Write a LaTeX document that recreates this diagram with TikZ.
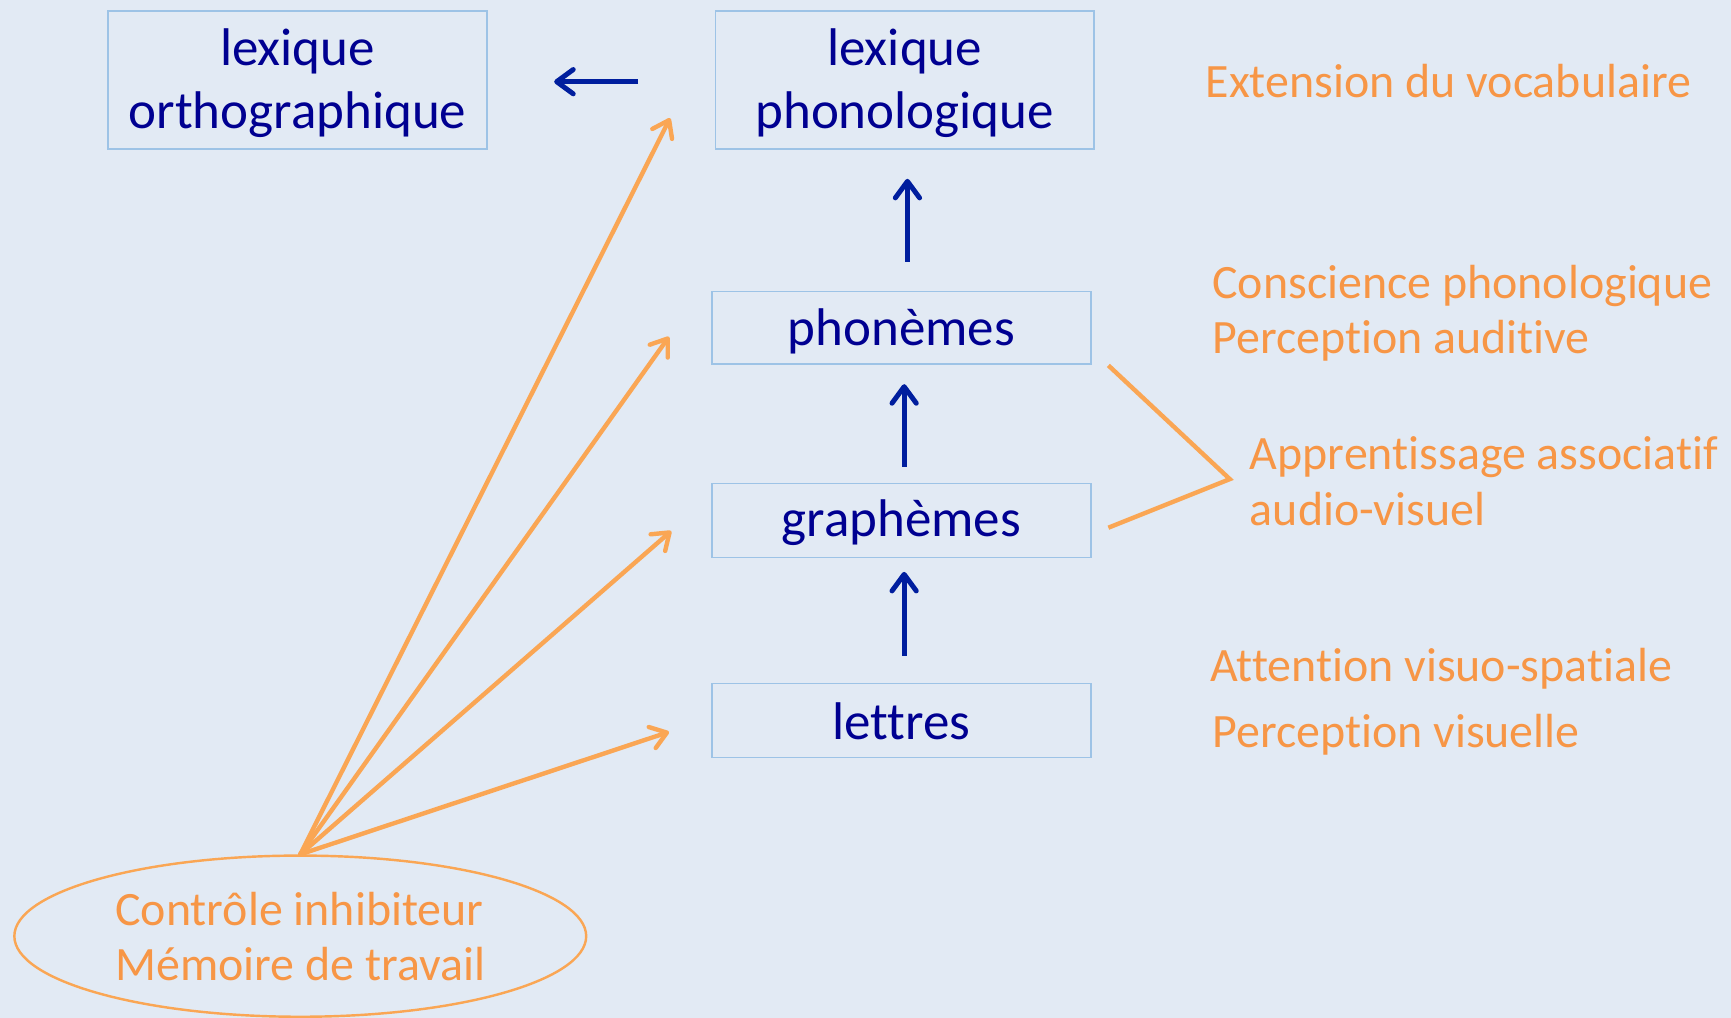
\documentclass[tikz,border=0pt]{standalone}
\usepackage{fontspec}
\setmainfont{Carlito}[Ligatures=NoCommon]
\usetikzlibrary{arrows.meta,shapes.geometric}
\definecolor{bg}{RGB}{226,234,244}
\definecolor{boxline}{RGB}{157,195,230}
\definecolor{navy}{RGB}{0,0,145}
\definecolor{arrblue}{RGB}{0,30,158}
\definecolor{orgtext}{RGB}{247,150,70}
\definecolor{orgline}{RGB}{250,166,84}
\begin{document}
\begin{tikzpicture}[x=1pt,y=-1pt,
  box/.style={draw=boxline,line width=1.5pt,minimum width=343pt,inner sep=0pt},
  boxtext/.style={text=navy,align=center,inner sep=0pt,font=\fontsize{48}{57}\selectfont},
  lab/.style={text=orgtext,anchor=base west,inner sep=0pt,
    font=\fontsize{43.4}{50}\selectfont},
  barrow/.style={draw=arrblue,line width=4.5pt,-{Straight Barb[round,length=15pt,width=22pt]}},
  oarrow/.style={draw=orgline,line width=4pt,line cap=round,-{Straight Barb[round,length=14pt,width=20pt]}},
  oline/.style={draw=orgline,line width=4pt}
]
\path[use as bounding box,fill=bg] (0,0) rectangle (1568,922);

% boxes
\node[box,minimum height=125pt] (lo) at (269.5,72.5) {};
\node[box,minimum height=125pt] (lp) at (819.5,72.5) {};
\node[box,minimum height=66pt] (ph) at (816.5,297) {};
\node[box,minimum height=67pt] (gr) at (816.5,471.5) {};
\node[box,minimum height=67pt] (le) at (816.5,652.5) {};
\node[boxtext] (loT) at ([yshift=-3pt]lo.center) {lexique\\orthographique};
\node[boxtext] (lpT) at ([yshift=-3pt]lp.center) {lexique\\phonologique};
\node[boxtext] (phT) at ([yshift=-3pt]ph.center) {phonèmes};
\node[boxtext] (grT) at ([yshift=-2pt]gr.center) {graphèmes};
\node[boxtext] (leT) at ([yshift=-1pt]le.center) {lettres};

% ellipse
\node[ellipse,draw=orgline,line width=2.2pt,minimum width=518pt,minimum height=146pt,
  inner sep=0pt,text=orgtext,align=left,font=\fontsize{43.4}{50}\selectfont]
  (ell) at (272,848) {Contrôle inhibiteur\\Mémoire de travail};

% labels
\node[lab] (ext) at (1092,88) {Extension du vocabulaire};
\node[lab] (cons) at (1098,270) {Conscience phonologique};
\node[lab] (paud) at (1098,320) {Perception auditive};
\node[lab] (app) at (1132,425) {Apprentissage associatif};
\node[lab] (av) at (1132,476) {audio-visuel};
\node[lab] (att) at (1096,617) {Attention visuo-spatiale};
\node[lab] (pvis) at (1098,677) {Perception visuelle};

% blue arrows
\coordinate (h1s) at (578,74);  \coordinate (h1e) at (502,74);
\coordinate (v1s) at (822,237); \coordinate (v1e) at (822,162);
\coordinate (v2s) at (819,423); \coordinate (v2e) at (819,348);
\coordinate (v3s) at (819,594); \coordinate (v3e) at (819,518);
\draw[barrow] (h1s) -- (h1e);
\draw[barrow] (v1s) -- (v1e);
\draw[barrow] (v2s) -- (v2e);
\draw[barrow] (v3s) -- (v3e);

% orange arrows from ellipse
\coordinate (o1) at (607,107);
\coordinate (o2) at (606,305);
\coordinate (o3) at (608,481);
\coordinate (o4) at (606,663);
\draw[oarrow] (ell.north) -- (o1);
\draw[oarrow] (ell.north) -- (o2);
\draw[oarrow] (ell.north) -- (o3);
\draw[oarrow] (ell.north) -- (o4);

% bracket
\coordinate (b1) at (1004,331);
\coordinate (b2) at (1114,434);
\coordinate (b3) at (1004,478);
\draw[oline] (b1) -- (b2) -- (b3);
\end{tikzpicture}
\end{document}
